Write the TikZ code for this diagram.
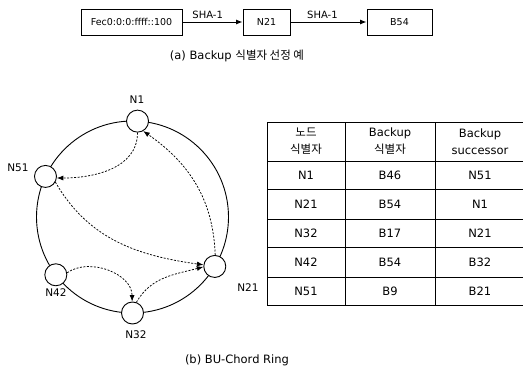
\documentclass[tikz,border=0pt]{standalone}
\usepackage{fontspec}
\setmainfont{DejaVu Sans}
\newfontfamily\kr{Noto Sans CJK KR}
\usetikzlibrary{arrows.meta}

\begin{document}
\begin{tikzpicture}[x=1pt, y=1pt, >={Latex[length=6.5pt,width=5pt]},
    idbox/.style={draw, line width=0.9pt, minimum height=26, inner sep=0pt, font=\fontsize{9.5}{11}\selectfont},
    peer/.style={draw, circle, fill=white, line width=0.9pt, minimum size=22, inner sep=0pt},
    peerlabel/.style={font=\fontsize{10.5}{12}\selectfont},
    backup/.style={->, line width=0.75pt, dash pattern=on 2pt off 1.5pt},
    cell/.style={font=\fontsize{11.5}{17}\selectfont, align=center},
    caption/.style={font=\fontsize{11.5}{13}\selectfont}]
    \useasboundingbox (0,0) rectangle (523,368);

    % (a) identifier chain
    \node[idbox, minimum width=101] (fec) at (131.5,346) {Fec0:0:0:ffff::100};
    \node[idbox, minimum width=47] (nid) at (266.5,346) {N21};
    \node[idbox, minimum width=65] (bid) at (399.5,346) {B54};
    \draw[->, line width=0.9pt] (fec) -- node[above, pos=0.42, font=\fontsize{10}{11}\selectfont] {SHA-1} (nid);
    \draw[->, line width=0.9pt] (nid) -- node[above, pos=0.42, font=\fontsize{10}{11}\selectfont] {SHA-1} (bid);
    \node[caption] (capa) at (237,312) {(a) Backup {\kr 식별자 선정 예}};

    % (b) ring
    \coordinate (ring) at (132.5,151);
    \draw[line width=0.9pt] (ring) circle (96);
    \node[peer] (n1) at ([shift={(87:96)}]ring) {};
    \node[peer] (n51) at ([shift={(155:96)}]ring) {};
    \node[peer] (n42) at ([shift={(217:96)}]ring) {};
    \node[peer] (n32) at ([shift={(270:96)}]ring) {};
    \node[peer] (n21) at ([shift={(329:96)}]ring) {};
    \node[peerlabel] (l1) at (137,268) {N1};
    \node[peerlabel] (l51) at (18,200) {N51};
    \node[peerlabel] (l42) at (56,75) {N42};
    \node[peerlabel] (l32) at (136,33) {N32};
    \node[peerlabel] (l21) at (248,80) {N21};

    \draw[backup] (n1.-90) to[out=-90, in=0] (n51.-8);
    \draw[backup] (n21.88) to[out=92, in=-35] (n1.-60);
    \draw[backup] (n51.-30) to[out=-60, in=172] (n21.172);
    \draw[backup] (n42.10) to[out=35, in=90] (n32.92);
    \draw[backup] (n32.70) to[out=60, in=195] (n21.182);

    % table
    \foreach \y in {246,207,179,149,121,91,63}
        \draw[line width=0.9pt] (267,\y) -- (523,\y);
    \foreach \x in {267,345,435}
        \draw[line width=0.9pt] (\x,246) -- (\x,63);
    \node[cell] (h1) at (306,226.5) {\kr 노드\\\kr 식별자};
    \node[cell] (h2) at (390,226.5) {Backup\\\kr 식별자};
    \node[cell] (h3) at (480,226.5) {Backup\\successor};
    \foreach \n/\b/\s/\y [count=\i] in {N1/B46/N51/193, N21/B54/N1/164, N32/B17/N21/135, N42/B54/B32/106, N51/B9/B21/77} {
        \node[cell] (node\i) at (306,\y) {\n};
        \node[cell] (bkid\i) at (390,\y) {\b};
        \node[cell] (succ\i) at (480,\y) {\s};
    }
    \node[caption] (capb) at (237,8) {(b) BU-Chord Ring};
\end{tikzpicture}
\end{document}
